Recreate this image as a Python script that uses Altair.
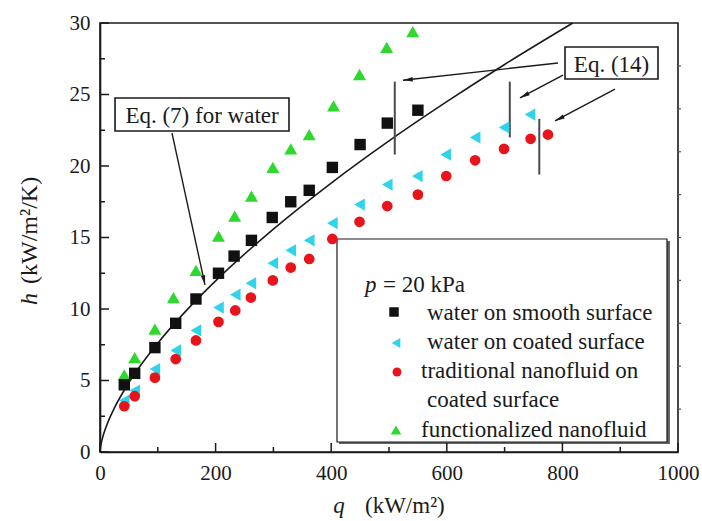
import altair as alt
import pandas as pd

# ---------------- data ----------------
q_smooth = [42, 60, 95, 131, 166, 205, 232, 262, 298, 330, 362, 402, 450, 497, 550]
h_smooth = [4.7, 5.5, 7.3, 9.0, 10.7, 12.5, 13.7, 14.8, 16.4, 17.5, 18.3, 19.9, 21.5, 23.0, 23.9]

q_coated = [42, 60, 95, 131, 166, 205, 234, 261, 299, 330, 362, 402, 449, 497, 549, 598, 649, 699, 744]
h_coated = [3.6, 4.3, 5.8, 7.1, 8.5, 10.1, 11.0, 11.8, 13.2, 14.1, 14.8, 16.0, 17.3, 18.7, 19.3, 20.8, 22.0, 22.7, 23.6]

q_trad = [42, 60, 95, 131, 166, 205, 234, 261, 299, 330, 362, 402, 449, 497, 550, 599, 649, 699, 745, 775]
h_trad = [3.2, 3.9, 5.2, 6.5, 7.8, 9.1, 9.9, 10.8, 12.0, 12.9, 13.5, 14.9, 16.1, 17.2, 18.0, 19.3, 20.4, 21.2, 21.9, 22.2]

q_func = [42, 60, 95, 127, 166, 205, 233, 262, 299, 330, 362, 404, 449, 496, 541]
h_func = [5.4, 6.6, 8.6, 10.8, 12.7, 15.1, 16.5, 17.9, 19.9, 21.2, 22.2, 24.2, 26.4, 28.3, 29.4]

# Eq. (7) curve
curve_q = [0, 1, 2, 5, 10, 17, 25, 50, 100, 150, 200, 300, 400, 500, 600, 700, 818]
curve_h = [0, 0.38, 0.59, 1.08, 1.70, 2.40, 3.09, 4.85, 7.61, 9.92, 11.97, 15.59, 18.81, 21.76, 24.5, 27.1, 30.0]

# Eq. (14) vertical bars
bar_q = [510, 709, 760]
bar_h1 = [25.9, 25.9, 23.3]
bar_h2 = [20.8, 22.0, 19.4]

# annotation arrows (start -> tip) and arrow-head angles
arr_q1 = [124.6, 792.4, 801.0, 891.0]
arr_h1 = [22.3, 27.2, 26.36, 25.38]
arr_q2 = [181.7, 524.2, 726.6, 787.2]
arr_h2 = [11.68, 26.0, 24.76, 23.15]
arr_ang = [167.8, 264.1, 241.9, 242.7]

# annotation boxes
box_labels = ["Eq. (7) for water", "Eq. (14)"]
box_q1 = [26, 804.5]
box_q2 = [327, 965.4]
box_h1 = [22.45, 26.08]
box_h2 = [24.76, 28.32]
box_tq = [176.5, 885]
box_th = [23.55, 27.15]

x_major = [0, 200, 400, 600, 800, 1000]
x_minor = [100, 300, 500, 700, 900]
y_major = [0, 5, 10, 15, 20, 25, 30]
y_minor = [2.5, 7.5, 12.5, 17.5, 22.5, 27.5]
y_right = [3, 6, 9, 12, 15, 18, 21, 24, 27]

# ---------------- styling ----------------
FONT = "Liberation Serif, Times New Roman, serif"
INK = "#1a1a1a"
W, H = 578, 429
BLACK, CYAN, RED, GREEN = "#111111", "#2fd3ea", "#e8141c", "#2fd82f"

xs = alt.Scale(domain=[0, 1000], nice=False, zero=False)
ys = alt.Scale(domain=[0, 30], nice=False, zero=False)

xaxis = alt.Axis(values=x_major, title=None, ticks=False, grid=False, labelPadding=10,
                 labelFont=FONT, labelFontSize=21, labelColor=INK, domainColor=INK,
                 domainWidth=1.6, labelFlush=False, format="d")
yaxis = alt.Axis(values=y_major, title=None, ticks=False, grid=False, labelPadding=10,
                 labelFont=FONT, labelFontSize=21, labelColor=INK, domainColor=INK,
                 domainWidth=1.6, format="d")


def X(field):
    return alt.X(field, scale=xs, axis=xaxis)


def Y(field):
    return alt.Y(field, scale=ys, axis=yaxis)


one = pd.DataFrame({"a": [0]})


def series(qv, hv, shape, color, size):
    df = pd.DataFrame({"q": qv, "h": hv})
    return alt.Chart(df).mark_point(shape=shape, filled=True, size=size, color=color,
                                    opacity=1, strokeWidth=0).encode(
        x=X("q:Q"), y=Y("h:Q"))


def txt(s, x, y, size=23, align="left", baseline="alphabetic", italic=False, angle=0):
    kw = dict(text=s, font=FONT, fontSize=size, align=align, baseline=baseline, color=INK)
    if italic:
        kw["fontStyle"] = "italic"
    if angle:
        kw["angle"] = angle
    return alt.Chart(one).mark_text(**kw).encode(x=alt.value(x), y=alt.value(y))


# curve
curve = alt.Chart(pd.DataFrame({"q": curve_q, "h": curve_h})).mark_line(
    color=INK, strokeWidth=1.6, interpolate="monotone").encode(x=X("q:Q"), y=Y("h:Q"))

bars = alt.Chart(pd.DataFrame({"q": bar_q, "h1": bar_h1, "h2": bar_h2})).mark_rule(
    color="#4a4a4a", strokeWidth=2).encode(x=X("q:Q"), y=Y("h1:Q"), y2="h2:Q")

arr_df = pd.DataFrame({"q1": arr_q1, "h1": arr_h1, "q2": arr_q2, "h2": arr_h2, "ang": arr_ang})
arrow_lines = alt.Chart(arr_df).mark_rule(color=INK, strokeWidth=1.4).encode(
    x=X("q1:Q"), y=Y("h1:Q"), x2="q2:Q", y2="h2:Q")
arrow_heads = alt.Chart(arr_df).mark_point(
    shape="M0,0L-0.36,1.6L0.36,1.6Z", filled=True, color=INK, opacity=1, size=150,
    strokeWidth=0).encode(
    x=X("q2:Q"), y=Y("h2:Q"), angle=alt.Angle("ang:Q", scale=None))

box_df = pd.DataFrame({"label": box_labels, "q1": box_q1, "q2": box_q2, "h1": box_h1,
                       "h2": box_h2, "tq": box_tq, "th": box_th})
boxes = alt.Chart(box_df).mark_rect(fill="white", stroke=INK, strokeWidth=1.6).encode(
    x=X("q1:Q"), x2="q2:Q", y=Y("h1:Q"), y2="h2:Q")
box_text = alt.Chart(box_df).mark_text(font=FONT, fontSize=23, color=INK,
                                       align="center", baseline="middle", dy=1).encode(
    x=X("tq:Q"), y=Y("th:Q"), text="label:N")


# inward ticks
def xticks(vals, length):
    return alt.Chart(pd.DataFrame({"v": vals})).mark_rule(color=INK, strokeWidth=1.5).encode(
        x=X("v:Q"), y=alt.value(H), y2=alt.value(H - length))


def yticks(vals, length):
    return alt.Chart(pd.DataFrame({"v": vals})).mark_rule(color=INK, strokeWidth=1.5).encode(
        y=Y("v:Q"), x=alt.value(0), x2=alt.value(length))


right_ticks = alt.Chart(pd.DataFrame({"v": y_right})).mark_rule(
    color="#555", strokeWidth=1.2).encode(y=Y("v:Q"), x=alt.value(W), x2=alt.value(W + 3))

# legend (manual, pixel layout relative to plot origin)
leg_shadow = alt.Chart(one).mark_rect(fill="#666").encode(
    x=alt.value(239), x2=alt.value(570), y=alt.value(218), y2=alt.value(421))
leg_box = alt.Chart(one).mark_rect(fill="white", stroke=INK, strokeWidth=1.2).encode(
    x=alt.value(237), x2=alt.value(567), y=alt.value(216), y2=alt.value(419))


def leg_sym(shape, color, size, x, y):
    return alt.Chart(one).mark_point(shape=shape, filled=True, color=color, size=size,
                                     opacity=1, strokeWidth=0).encode(
        x=alt.value(x), y=alt.value(y))


legend = [
    leg_shadow, leg_box,
    txt("p", 265, 269, italic=True),
    txt("= 20 kPa", 283, 269),
    leg_sym("square", BLACK, 90, 294, 289), txt("water on smooth surface", 327, 297),
    leg_sym("triangle-left", CYAN, 100, 296, 320), txt("water on coated surface", 327, 326),
    leg_sym("circle", RED, 80, 297, 349), txt("traditional nanofluid on", 321, 355),
    txt("coated surface", 327, 384),
    leg_sym("triangle-up", GREEN, 110, 296, 407), txt("functionalized nanofluid", 321, 414),
]

titles = [
    txt("q", 239, 490, italic=True, align="center"),
    txt("(kW/m²)", 265, 490),
    txt("h", -70, 276, size=24, italic=True, align="center", baseline="middle", angle=270),
    txt("(kW/m²/K)", -70, 261, size=24, align="left", baseline="middle", angle=270),
]

chart = alt.layer(
    *legend,
    curve, bars, arrow_lines, arrow_heads, boxes, box_text,
    series(q_coated, h_coated, "triangle-left", CYAN, 150),
    series(q_trad, h_trad, "circle", RED, 115),
    series(q_func, h_func, "triangle-up", GREEN, 170),
    series(q_smooth, h_smooth, "square", BLACK, 130),
    xticks(x_major, 9), xticks(x_minor, 5), yticks(y_major, 9), yticks(y_minor, 5),
    right_ticks,
    *titles,
).properties(
    width=W, height=H,
    padding={"left": 100, "top": 23, "right": 24, "bottom": 69},
    autosize=alt.AutoSizeParams(type="none"),
    background="white",
).configure_view(stroke=INK, strokeWidth=1.6)

chart.save("out.html", embed_options={"renderer": "svg", "actions": False})
